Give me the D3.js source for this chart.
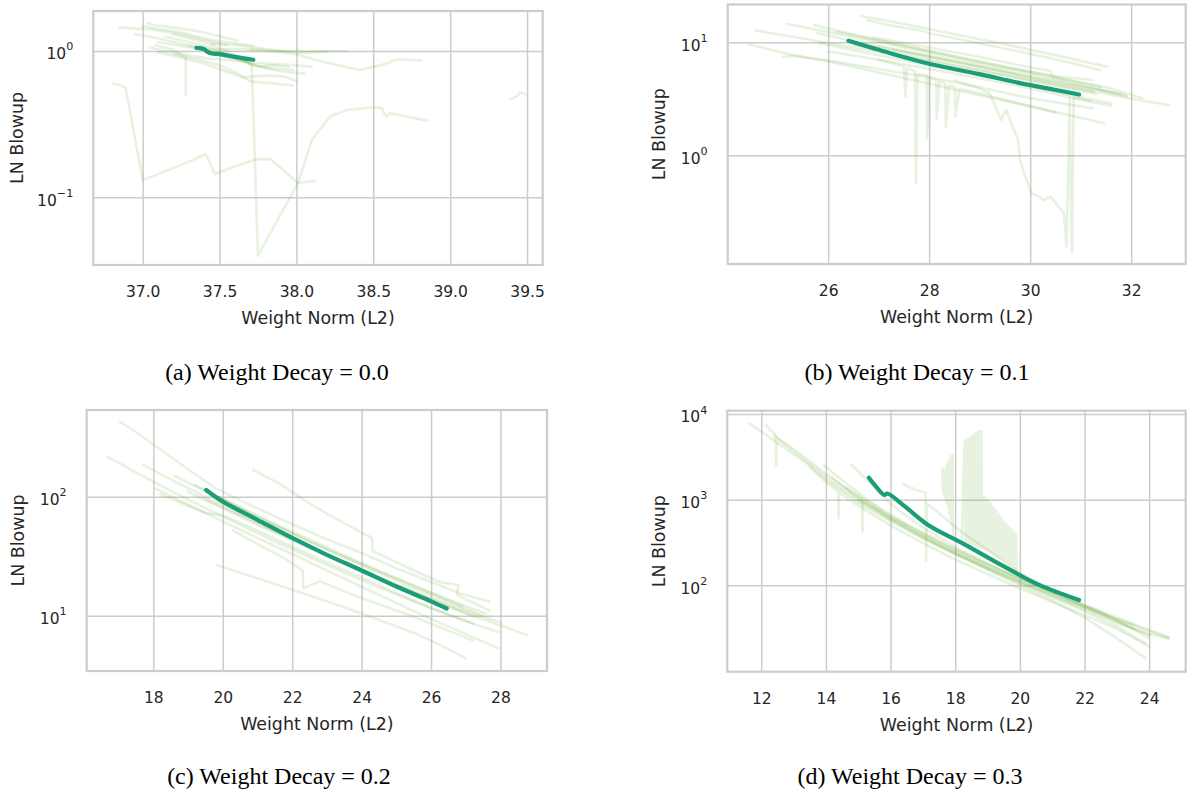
<!DOCTYPE html>
<html><head><meta charset="utf-8">
<script src="https://cdn.jsdelivr.net/npm/d3@7"></script>
<style>body{margin:0;background:#fff}svg{display:block}</style>
</head><body>
<svg id="chart" width="1196" height="794"></svg>
<script>
// ---------------- DATA ----------------
// Panel (a) weight decay 0.0 : faint runs, [weight norm, LN blowup]
const runsA = [
  [[36.85,1.45],[36.95,1.42],[37.05,1.40],[37.15,1.35],[37.25,1.30],[37.35,1.22],[37.45,1.15],[37.55,1.10]],
  [[37.03,1.55],[37.08,1.50],[37.15,1.47],[37.25,1.42],[37.35,1.37],[37.45,1.30],[37.55,1.22],[37.62,1.18]],
  [[37.10,1.15],[37.25,1.08],[37.40,1.02],[37.55,1.03],[37.75,1.02],[37.95,1.00],[38.15,1.00],[38.33,1.00]],
  [[37.05,1.05],[37.15,1.00],[37.30,0.93],[37.45,0.88],[37.60,0.86],[37.80,0.82],[37.98,0.80],[38.10,0.78]],
  [[37.10,0.98],[37.25,0.90],[37.40,0.82],[37.55,0.72],[37.65,0.66],[37.80,0.68],[37.92,0.67],[38.00,0.62]],
  [[37.15,1.25],[37.30,1.15],[37.45,1.05],[37.55,0.95],[37.65,0.85],[37.75,0.78],[37.85,0.80],[37.95,0.78]],
  [[37.08,1.10],[37.20,1.02],[37.28,0.90],[37.28,0.50]],
  [[37.20,1.30],[37.40,1.15],[37.55,1.00],[37.70,0.82],[37.71,0.78],[37.75,0.040],[38.01,0.125],[38.10,0.246],[38.22,0.356],[38.33,0.395],[38.50,0.412],[38.555,0.405],[38.585,0.356],[38.61,0.375],[38.85,0.334]],
  [[36.81,0.60],[36.86,0.58],[36.89,0.556],[37.00,0.131],[37.28,0.171],[37.41,0.197],[37.47,0.144],[37.66,0.171],[37.74,0.182],[37.83,0.183],[38.01,0.125],[38.12,0.129]],
  [[37.70,1.02],[37.98,0.96],[38.17,0.845],[38.41,0.742],[38.55,0.80],[38.66,0.877],[38.81,0.86]],
  [[39.395,0.468],[39.43,0.487],[39.457,0.522],[39.49,0.506]],
  [[36.95,1.30],[37.10,1.22],[37.25,1.12],[37.40,1.05],[37.50,0.98],[37.60,0.90],[37.72,0.80],[37.85,0.76],[37.98,0.74]],
  [[37.45,1.12],[37.60,1.10],[37.75,1.05],[37.90,1.00],[38.05,0.97],[38.20,0.99]],
  [[37.20,0.95],[37.35,0.88],[37.50,0.80],[37.62,0.70],[37.70,0.62],[37.85,0.60],[37.98,0.58]],
  [[37.00,1.48],[37.12,1.40],[37.22,1.36],[37.32,1.28],[37.42,1.20],[37.52,1.16],[37.62,1.12],[37.72,1.08]],
  [[37.30,1.08],[37.42,1.00],[37.55,0.90],[37.68,0.84],[37.80,0.76],[37.92,0.72],[38.05,0.70]]
];
const mainA = [[37.35,1.05],[37.40,1.03],[37.42,0.99],[37.45,0.96],[37.50,0.95],[37.60,0.91],[37.72,0.87]];

// Panel (b) weight decay 0.1
const runsB = [
  [[24.43,9.6],[25.1,8.1],[25.5,7.4],[26.0,6.8],[27.0,5.4],[28.0,4.3],[29.0,3.4],[30.0,2.7],[30.8,2.25],[31.46,1.92]],
  [[24.57,12.7],[24.8,12.2],[25.5,10.8],[26.5,9.0],[27.5,7.5],[28.5,6.2],[29.5,5.1],[30.5,4.2],[31.5,3.5],[32.2,3.05],[32.75,2.79]],
  [[25.19,14.5],[26.0,12.3],[27.0,10.0],[28.0,8.1],[29.0,6.5],[30.0,5.3],[31.0,4.2],[31.91,3.3]],
  [[26.66,17.1],[27.5,14.5],[28.5,11.8],[29.5,9.6],[30.5,7.7],[31.53,6.08]],
  [[26.78,15.7],[27.2,14.2],[27.9,12.5],[28.0,12.0],[29.0,9.8],[30.0,7.9],[30.8,6.6],[31.39,5.69]],
  [[25.72,14.2],[26.5,11.7],[27.5,9.3],[28.5,7.5],[29.5,6.0],[30.5,5.0],[31.24,4.64]],
  [[25.79,12.0],[26.5,10.2],[27.5,8.3],[28.5,6.7],[29.5,5.4],[30.5,4.3],[31.24,3.7]],
  [[25.83,9.8],[26.8,8.0],[27.8,6.5],[28.8,5.3],[29.8,4.3],[30.8,3.4],[31.61,2.89]],
  [[26.17,12.4],[27.0,10.4],[28.0,8.4],[29.0,6.8],[30.0,5.5],[31.0,4.4],[31.6,3.9],[32.22,3.19]],
  [[25.11,7.46],[25.3,7.6],[26.0,6.9],[27.0,5.8],[28.0,4.9],[29.0,4.0],[30.0,3.2],[31.24,2.6]],
  [[26.9,11.0],[28.0,9.0],[29.0,7.4],[30.0,6.0],[30.4,5.6],[30.45,4.9],[31.0,4.4],[31.4,4.0]],
  [[27.3,8.5],[28.3,7.0],[29.3,5.7],[30.3,4.6],[31.2,3.9],[31.9,3.4]],
  [[26.0,8.3],[27.0,7.0],[28.0,5.8],[29.0,4.8],[30.0,3.9],[31.0,3.1],[31.6,2.75]],
  [[26.5,9.5],[27.5,7.8],[28.5,6.3],[29.5,5.1],[30.5,4.1],[31.3,3.5]],
  [[27.0,9.2],[28.0,7.6],[29.0,6.2],[30.0,5.0],[31.0,4.1],[31.8,3.5]],
  [[27.0,7.0],[27.5,6.1],[27.53,3.3],[27.56,5.9],[27.72,5.6],[27.74,0.565],[27.77,5.2],[27.95,5.1],[27.96,1.41],[28.0,4.9],[28.14,4.6],[28.15,2.12],[28.2,4.5],[28.32,4.3],[28.33,1.79],[28.4,4.2],[28.51,4.0],[28.52,2.2],[28.6,3.9],[29.5,3.1],[30.5,2.4]],
  [[28.5,4.6],[29.0,3.9],[29.19,3.54],[29.3,2.8],[29.42,2.05],[29.53,2.52],[29.65,1.79],[29.76,1.37],[29.8,0.91],[29.88,0.69],[30.03,0.46],[30.18,0.43],[30.25,0.40],[30.41,0.43],[30.56,0.35],[30.67,0.306],[30.72,0.155],[30.75,0.6],[30.78,3.2],[30.81,0.3],[30.83,0.136],[30.86,3.26],[31.2,3.0]]
];
const mainB = [[26.40,10.3],[27.23,8.0],[27.98,6.5],[28.97,5.25],[29.8,4.35],[30.48,3.8],[30.97,3.45]];

// Panel (c) weight decay 0.2
const runsC = [
  [[17.04,427],[17.5,350],[18.02,272],[19.0,170],[19.78,118],[20.8,85],[21.85,61.6],[22.9,45],[23.92,34.5],[25.0,25],[25.98,19.3],[26.8,15.5],[27.69,13.1]],
  [[16.68,217],[17.5,160],[18.5,112],[19.5,80],[20.5,58],[21.5,42],[22.5,31],[23.5,23],[24.5,17.3],[25.5,13.2],[26.5,10.2],[27.3,8.4],[27.95,7.3]],
  [[17.71,185],[18.5,140],[19.5,100],[20.5,72],[21.5,52],[22.5,38],[23.5,28],[24.5,21],[25.5,16],[26.5,12.4],[27.4,10],[28.0,8.8]],
  [[18.07,117],[19.0,86],[20.0,62],[21.0,45],[22.0,33],[23.0,24],[24.0,17.5],[25.0,12.8],[26.0,9.4],[27.0,7.0],[27.95,5.3]],
  [[19.83,26.7],[20.5,23],[21.5,18.5],[22.5,14.8],[23.5,11.8],[24.5,9.2],[25.5,7.2],[26.3,5.6],[26.99,4.4]],
  [[20.87,168],[21.2,150],[21.6,130],[22.0,110],[22.5,88],[23.0,72],[23.5,60],[24.0,50],[24.3,45],[24.32,35],[24.8,30],[25.5,24],[26.3,19],[26.79,18.1],[26.75,14.9],[27.7,11]],
  [[18.6,150],[19.5,112],[20.5,80],[21.5,58],[22.5,42],[23.5,31],[24.5,23],[25.5,17],[26.5,13],[27.5,10]],
  [[19.2,125],[20.0,95],[21.0,67],[22.0,49],[23.0,36],[24.0,27],[25.0,20.5],[26.0,15.5],[26.9,12]],
  [[18.2,105],[19.0,84],[19.5,73],[20.0,70],[21.0,52],[22.0,38],[23.0,28],[24.0,21],[25.0,15.5],[26.0,11.6],[27.2,8.6]],
  [[19.5,95],[20.5,70],[21.5,51],[22.5,38],[23.5,28],[24.5,21],[25.5,15.7],[26.5,12],[27.2,10]],
  [[20.3,52],[21.0,40],[21.8,30],[22.3,24],[22.32,17],[22.8,19.5],[23.5,16],[24.5,12.5],[25.5,9.8],[26.3,7.9],[27.2,6.2]],
  [[19.0,110],[20.0,80],[21.0,58],[22.0,43],[23.0,32],[24.0,24],[25.0,18],[26.0,13.6],[27.0,10.5],[28.76,6.9]],
  [[19.9,100],[20.8,74],[21.8,54],[22.8,40],[23.8,29.5],[24.8,22],[25.8,16.5],[26.8,12.6],[27.6,10.4]]
];
const mainC = [[19.52,114],[20.0,91],[21.0,64],[22.0,45],[23.0,32.5],[24.0,24],[25.0,17.6],[26.0,13.2],[26.45,11.5]];

// Panel (d) weight decay 0.3
const runsD = [
  [[11.62,7780],[12.0,6200],[12.5,4600],[13.0,3400],[13.5,2500],[14.0,1700],[14.5,1250],[15.0,920],[16.0,560],[17.0,350],[18.0,230],[19.0,155],[20.0,105],[21.0,72],[22.0,50],[23.0,33],[23.89,21]],
  [[12.15,7440],[12.3,6400],[12.45,5700],[12.46,2540],[12.48,5200],[12.8,4200],[13.2,3200],[13.7,2300],[14.2,1600],[15.0,980],[16.0,580],[17.0,360],[18.0,235],[19.0,158],[20.0,108],[21.0,75],[22.0,52],[23.0,36],[24.0,27],[24.6,24.1]],
  [[13.92,2540],[14.5,1700],[15.0,1200],[16.0,640],[17.0,390],[18.0,250],[19.0,165],[20.0,112],[21.0,78],[22.0,55],[23.0,40],[23.54,34.4]],
  [[14.8,2540],[15.2,1800],[15.6,1250],[16.0,900],[16.5,640],[17.0,470],[18.0,280],[19.0,180],[20.0,120],[21.0,82],[22.0,56],[23.0,38],[24.01,26]],
  [[13.5,2400],[14.0,1600],[14.38,1250],[14.39,606],[14.41,1200],[15.0,850],[16.0,500],[17.0,310],[18.0,200],[19.0,135],[20.0,92],[21.0,64],[22.0,45],[23.0,31],[24.01,19.2]],
  [[14.2,1800],[14.8,1200],[15.12,1000],[15.13,423],[15.15,980],[16.0,600],[17.0,370],[18.0,235],[19.0,152],[20.0,100],[21.0,66],[22.0,42],[23.0,24],[23.89,14.1]],
  [[16.4,1500],[16.8,1300],[17.08,1200],[17.1,188],[17.12,900],[17.5,700],[18.0,480],[18.5,350],[19.0,260],[19.5,190],[20.0,140],[21.0,88],[22.0,58],[23.0,40],[24.6,24.1]],
  [[17.60,2300],[17.62,1200],[17.64,2200],[17.66,1100],[17.68,2150],[17.70,1000],[17.72,2400],[17.74,900],[17.76,2600],[17.78,800],[17.80,2800],[17.82,700],[17.84,3000],[17.86,600],[17.88,3200],[17.90,520],[17.92,3320],[17.94,390]],
  [[18.20,330],[18.29,4750],[18.31,330],[18.33,4850],[18.35,325],[18.37,4950],[18.39,320],[18.41,5050],[18.43,315],[18.45,5200],[18.47,310],[18.49,5350],[18.51,305],[18.53,5500],[18.55,300],[18.57,5650],[18.59,295],[18.61,5800],[18.63,290],[18.65,5950],[18.67,285],[18.69,6100],[18.71,280],[18.73,6200],[18.75,278],[18.77,6300],[18.79,274],[18.81,6330],[18.83,270],[18.86,1100],[18.90,265],[18.94,1050],[18.98,258],[19.02,980],[19.06,250],[19.10,900],[19.14,240],[19.18,820],[19.22,230],[19.26,750],[19.30,222],[19.34,680],[19.38,212],[19.42,620],[19.46,204],[19.50,560],[19.54,195],[19.58,520],[19.62,186],[19.66,480],[19.70,178],[19.74,450],[19.78,170],[19.82,420],[19.86,160],[19.88,387],[19.90,150]],
  [[12.4,5600],[13.0,3900],[13.5,2800],[14.0,2000],[14.5,1450],[15.0,1050],[16.0,600],[17.0,370],[18.0,240],[19.0,160],[20.0,110],[21.0,77],[22.0,55],[23.0,38],[23.54,31]],
  [[15.0,1000],[16.0,620],[17.0,400],[18.0,260],[19.0,175],[20.0,118],[21.0,82],[22.0,58],[23.0,42],[24.0,30],[24.6,25]],
  [[14.6,1400],[15.5,850],[16.5,520],[17.5,330],[18.5,215],[19.5,145],[20.5,100],[21.5,70],[22.5,49],[23.5,31],[24.0,24]]
];
const mainD = [[15.33,1804],[15.5,1500],[15.81,1133],[15.9,1180],[16.45,828],[17.16,506],[18.23,309],[19.52,165],[20.59,101],[21.83,67.3]];

// Tick values
const xTicksA = [37.0, 37.5, 38.0, 38.5, 39.0, 39.5];
const xTicksB = [26, 28, 30, 32];
const xTicksC = [18, 20, 22, 24, 26, 28];
const xTicksD = [12, 14, 16, 18, 20, 22, 24];
const yExpA = [-1, 0];
const yExpB = [0, 1];
const yExpC = [1, 2];
const yExpD = [2, 3, 4];
const captions = ["(a) Weight Decay = 0.0", "(b) Weight Decay = 0.1", "(c) Weight Decay = 0.2", "(d) Weight Decay = 0.3"];
const xLabel = "Weight Norm (L2)";
const yLabel = "LN Blowup";

// ---------------- LAYOUT ----------------
const panels = [
  {runs: runsA, main: mainA, xt: xTicksA, ye: yExpA, fmt: ".1f", cap: captions[0],
   box: [93.3, 11, 542.7, 265], xd: [36.679, 39.602], yd: [0.03443, 1.875], ylx: 17, capx: 277, capy: 380},
  {runs: runsB, main: mainB, xt: xTicksB, ye: yExpB, fmt: "d", cap: captions[1],
   box: [727.7, 4.5, 1185.7, 264], xd: [24.01, 33.08], yd: [0.109, 21.6], ylx: 659, capx: 917, capy: 380},
  {runs: runsC, main: mainC, xt: xTicksC, ye: yExpC, fmt: "d", cap: captions[2],
   box: [86.7, 410, 547, 671], xd: [16.08, 29.34], yd: [3.43, 535.8], ylx: 17.5, capx: 279, capy: 784},
  {runs: runsD, main: mainD, xt: xTicksD, ye: yExpD, fmt: "d", cap: captions[3],
   box: [727.3, 410.7, 1185.7, 671.7], xd: [10.95, 25.13], yd: [9.79, 10927], ylx: 659, capx: 910, capy: 784}
];

const svg = d3.select("#chart");
const GRID = "#cccccc", TEXT = "#262626";
const FAINT = "rgb(100,170,50)", MAIN = "#1b9e77";

panels.forEach((p, i) => {
  const [l, t, r, b] = p.box;
  const x = d3.scaleLinear().domain(p.xd).range([l, r]);
  const y = d3.scaleLog().domain(p.yd).range([b, t]);
  const g = svg.append("g");

  const xa = g.append("g").attr("transform", `translate(0,${b})`)
    .call(d3.axisBottom(x).tickValues(p.xt).tickSize(-(b - t)).tickPadding(21)
      .tickFormat(d3.format(p.fmt)));
  xa.select(".domain").remove();
  xa.selectAll(".tick line").attr("stroke", GRID).attr("stroke-width", 1.5);
  xa.selectAll(".tick text").attr("fill", TEXT).attr("font-family", "DejaVu Sans")
    .attr("font-size", 15.5);

  const ya = g.append("g").attr("transform", `translate(${l},0)`)
    .call(d3.axisLeft(y).tickValues(p.ye.map(e => Math.pow(10, e))).tickSize(-(r - l)).tickPadding(20)
      .tickFormat(() => ""));
  ya.select(".domain").remove();
  ya.selectAll(".tick line").attr("stroke", GRID).attr("stroke-width", 1.5);
  ya.selectAll(".tick text").each(function(d, k) {
    const e = p.ye[k];
    const txt = d3.select(this).attr("fill", TEXT).attr("font-family", "DejaVu Sans")
      .attr("font-size", 15.5).attr("dy", "0.5em");
    txt.append("tspan").text("10");
    txt.append("tspan").attr("font-size", "0.72em").attr("dy", "-0.78em")
      .text(e < 0 ? "\u2212" + Math.abs(e) : String(e));
  });

  const cid = "clip" + i;
  svg.append("defs").append("clipPath").attr("id", cid)
    .append("rect").attr("x", l).attr("y", t).attr("width", r - l).attr("height", b - t);

  const line = d3.line().x(d => x(d[0])).y(d => y(d[1]));
  const smooth = d3.line().x(d => x(d[0])).y(d => y(d[1])).curve(d3.curveCatmullRom.alpha(0.5));
  const lg = g.append("g").attr("clip-path", `url(#${cid})`);
  lg.selectAll("path.run").data(p.runs).join("path").attr("class", "run")
    .attr("d", line).attr("fill", "none").attr("stroke", FAINT)
    .attr("stroke-opacity", 0.15).attr("stroke-width", 2.6)
    .attr("stroke-linejoin", "round").attr("stroke-linecap", "round");
  lg.append("path").datum(p.main).attr("d", smooth).attr("fill", "none")
    .attr("stroke", MAIN).attr("stroke-width", 4.2)
    .attr("stroke-linejoin", "round").attr("stroke-linecap", "round");

  g.append("rect").attr("x", l).attr("y", t).attr("width", r - l).attr("height", b - t)
    .attr("fill", "none").attr("stroke", GRID).attr("stroke-width", 2.2);

  g.append("text").attr("x", (l + r) / 2).attr("y", b + 53).attr("dy", "0.35em")
    .attr("text-anchor", "middle").attr("fill", TEXT).attr("font-family", "DejaVu Sans")
    .attr("font-size", 17.4).text(xLabel);
  g.append("text").attr("transform", `translate(${p.ylx},${(t + b) / 2}) rotate(-90)`)
    .attr("dy", "0.35em").attr("text-anchor", "middle").attr("fill", TEXT)
    .attr("font-family", "DejaVu Sans").attr("font-size", 17.4).text(yLabel);

  svg.append("text").attr("x", p.capx).attr("y", p.capy).attr("text-anchor", "middle")
    .attr("fill", "#000").attr("font-family", "Liberation Serif, Times New Roman, serif")
    .attr("font-size", 24).text(p.cap);
});
</script>
</body></html>
